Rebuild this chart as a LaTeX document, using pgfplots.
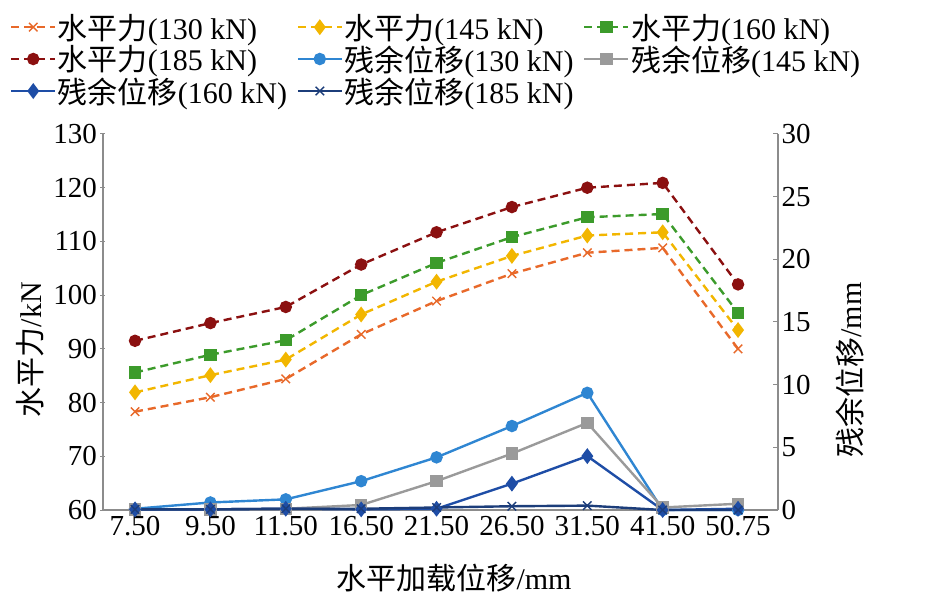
\documentclass[border=0pt]{standalone}
\usepackage{fontspec}
\setmainfont{Liberation Serif}
\newfontfamily\cjk{Noto Sans CJK SC}
\usepackage{pgfplots}
\usepackage{pgfplotstable}
\pgfplotsset{compat=1.18}

\definecolor{cA}{HTML}{E8692A}
\definecolor{cB}{HTML}{F2B600}
\definecolor{cC}{HTML}{3C9B2B}
\definecolor{cD}{HTML}{8B1010}
\definecolor{cE}{HTML}{2F86D2}
\definecolor{cF}{HTML}{9A9A9A}
\definecolor{cG}{HTML}{1E4DA6}
\definecolor{cH}{HTML}{1C3D7A}
\definecolor{axgray}{HTML}{8C8C8C}

\pgfplotstableread{
x f130 f145 f160 f185 r130 r145 r160 r185
0 78.3 81.9 85.6 91.5 0.10 0.05 0.05 0.05
1 81.0 85.1 88.9 94.8 0.60 0.05 0.05 0.05
2 84.4 88.0 91.6 97.8 0.85 0.10 0.10 0.10
3 92.7 96.4 100.0 105.7 2.30 0.40 0.05 0.10
4 98.9 102.5 106.0 111.7 4.20 2.30 0.10 0.20
5 104.0 107.3 110.8 116.4 6.70 4.50 2.10 0.30
6 107.9 111.1 114.5 120.0 9.35 6.95 4.30 0.35
7 108.8 111.7 115.1 120.9 0.00 0.20 0.00 0.00
8 90.0 93.5 96.7 102.0 0.00 0.50 0.10 0.00
}\data

\pgfplotsset{
  fA/.style={color=cA, dash pattern=on 8pt off 5pt, line width=2.4pt, mark=x, mark size=6pt, mark options={solid, line width=1.4pt}},
  fB/.style={color=cB, dash pattern=on 8pt off 5pt, line width=2.4pt, mark=diamond*, mark size=6pt, mark options={solid}},
  fC/.style={color=cC, dash pattern=on 8pt off 5pt, line width=2.4pt, mark=square*, mark size=5pt, mark options={solid}},
  fD/.style={color=cD, dash pattern=on 8pt off 5pt, line width=2.4pt, mark=*, mark size=5pt, mark options={solid}},
  rE/.style={color=cE, solid, line width=2.4pt, mark=*, mark size=5pt},
  rF/.style={color=cF, solid, line width=2.4pt, mark=square*, mark size=5pt},
  rG/.style={color=cG, solid, line width=2.4pt, mark=diamond*, mark size=6pt},
  rH/.style={color=cH, solid, line width=2.4pt, mark=x, mark size=6pt, mark options={line width=1.4pt}},
  common/.style={
    scale only axis, width=675pt, height=376pt,
    xmin=-0.425, xmax=8.53,
    axis line style={axgray, line width=1.2pt, -},
    tick style={axgray, line width=1pt},
    major tick length=5pt,
    tick label style={font=\fontsize{29}{33}\selectfont},
    label style={font=\fontsize{30}{34}\selectfont},
    /pgf/number format/assume math mode=true,
    clip=false,
  },
}

\begin{document}
\begin{tikzpicture}
\begin{axis}[common,
  axis x line*=bottom, axis y line*=left,
  xtick={0,...,8},
  xticklabels={7.50,9.50,11.50,16.50,21.50,26.50,31.50,41.50,50.75},
  x tick style={draw=none},
  ymin=60, ymax=130, ytick={60,70,...,130},
  y tick label style={/pgf/number format/fixed},
  xlabel={{\cjk 水平加载位移}/mm},
  xlabel style={at={(axis description cs:0.52,-0.181)}, anchor=center},
  ylabel={{\cjk 水平力}/kN},
  ylabel style={at={(axis description cs:-0.108,0.426)}, anchor=center},
  tick align=center,
]
\addplot[fA] table[x=x,y=f130]{\data};
\addplot[fB] table[x=x,y=f145]{\data};
\addplot[fC] table[x=x,y=f160]{\data};
\addplot[fD] table[x=x,y=f185]{\data};
\end{axis}
\begin{axis}[common,
  axis x line=none, axis y line*=right,
  ymin=0, ymax=30, ytick={0,5,...,30},
  tick align=inside,
  ylabel={{\cjk 残余位移}/mm},
  ylabel style={at={(axis description cs:1.107,0.372)}, anchor=center},
  legend columns=3,
  legend image code/.code={\draw[mark repeat=2,mark phase=2] plot coordinates {(0pt,0pt) (22pt,0pt) (44pt,0pt)};},
  legend style={draw=none, fill=none, at={(axis description cs:-0.138,1.324)}, anchor=north west,
    font=\fontsize{30}{34}\selectfont, inner sep=0pt, row sep=2pt,
    nodes={inner sep=1.5pt},
    /tikz/every even column/.append style={column sep=8pt}},
  legend cell align=left,
]
\addlegendimage{fA}\addlegendentry{{\cjk 水平力}(130 kN)}
\addlegendimage{fB}\addlegendentry{{\cjk 水平力}(145 kN)}
\addlegendimage{fC}\addlegendentry{{\cjk 水平力}(160 kN)}
\addlegendimage{fD}\addlegendentry{{\cjk 水平力}(185 kN)}
\addplot[rE] table[x=x,y=r130]{\data}; \addlegendentry{{\cjk 残余位移}(130 kN)}
\addplot[rF] table[x=x,y=r145]{\data}; \addlegendentry{{\cjk 残余位移}(145 kN)}
\addplot[rG] table[x=x,y=r160]{\data}; \addlegendentry{{\cjk 残余位移}(160 kN)}
\addplot[rH] table[x=x,y=r185]{\data}; \addlegendentry{{\cjk 残余位移}(185 kN)}
\end{axis}
\pgfresetboundingbox
\path[use as bounding box] (-103pt,-92pt) rectangle (836pt,510pt);
\end{tikzpicture}
\end{document}
